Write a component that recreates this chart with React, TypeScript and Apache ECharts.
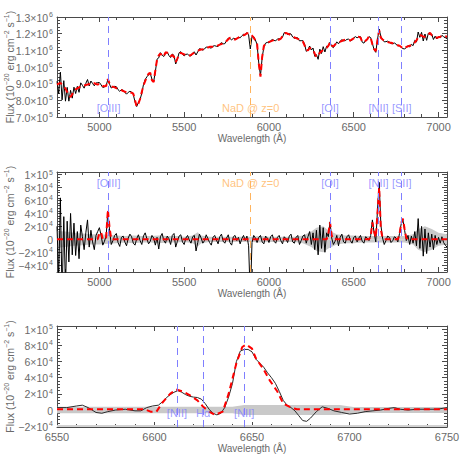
import React, { useEffect, useRef } from 'react';
import * as echarts from 'echarts';

// ---------------- DATA ----------------
const WAVE_START = 4750; // Å, first sample of the full spectrum
const WAVE_STEP = 10; // Å

// stellar continuum model (units of 1e5)
const stellar = [
  8.94, 9.0, 9.05, 8.93, 8.83, 8.7, 8.5, 8.3, 8.2, 8.37,
  8.54, 8.66, 8.72, 8.78, 8.83, 8.86, 8.89, 8.92, 8.95, 8.98,
  9.02, 9.05, 9.03, 8.98, 8.94, 8.89, 8.87, 8.86, 8.84, 8.83,
  8.82, 8.82, 8.82, 8.82, 8.78, 8.73, 8.69, 8.65, 8.61, 8.56,
  8.52, 8.47, 8.46, 8.46, 8.46, 8.4, 8.0, 7.62, 7.8, 8.08,
  8.5, 8.9, 9.15, 9.4, 9.6, 9.65, 9.2, 9.1, 9.8, 10.44,
  10.7, 10.82, 10.62, 10.65, 10.88, 10.85, 10.68, 10.65, 10.72, 10.6,
  10.3, 10.5, 10.8, 10.85, 10.8, 10.75, 10.74, 10.71, 10.69, 10.72,
  10.8, 10.85, 10.9, 10.96, 11.02, 11.05, 11.07, 11.1, 11.13, 11.17,
  11.21, 11.22, 11.22, 11.22, 11.25, 11.3, 11.34, 11.38, 11.42, 11.46,
  11.56, 11.66, 11.76, 11.72, 11.68, 11.64, 11.7, 11.76, 11.82, 11.86,
  11.9, 11.95, 12.02, 12.03, 11.98, 11.88, 11.76, 11.6, 11.4, 10.2,
  9.42, 10.6, 11.27, 11.38, 11.46, 11.5, 11.54, 11.58, 11.62, 11.64,
  11.64, 11.64, 11.7, 11.86, 12.02, 12.04, 12.0, 11.96, 11.9, 11.84,
  11.78, 11.73, 11.69, 11.65, 11.6, 11.53, 11.3, 11.0, 11.0, 11.14,
  11.1, 11.04, 10.8, 10.6, 10.7, 10.85, 10.95, 11.04, 11.1, 11.15,
  11.19, 11.22, 11.22, 11.24, 11.35, 11.45, 11.49, 11.52, 11.56, 11.61,
  11.64, 11.62, 11.6, 11.59, 11.66, 11.72, 11.77, 11.79, 11.81, 11.76,
  11.52, 11.49, 11.57, 11.67, 11.84, 11.7, 11.1, 10.95, 10.92, 11.2,
  11.4, 11.6, 11.63, 11.59, 11.54, 11.5, 11.47, 11.45, 11.42, 11.4,
  11.35, 11.3, 11.2, 10.95, 10.8, 10.95, 11.18, 11.24, 11.28, 11.31,
  11.34, 11.48, 11.6, 11.78, 11.92, 11.88, 11.82, 11.82, 11.82, 11.93,
  12.06, 11.9, 11.81, 11.79, 11.76, 11.79, 11.82, 11.86, 11.87, 11.85,
  11.82,
];

// observed minus stellar model (units of 1e4)
const residual = [
  2.0, -6.0, 6.4, -9.0, 3.5, -7.5, 2.8, -3.5, 4.0, -2.4,
  2.5, -2.5, 1.2, -3.0, 2.2, 0.4, -1.6, 1.0, 3.0, -1.2,
  1.4, -0.4, -1.6, 0.6, 1.2, 1.8, 0.6, -0.9, -0.3, 0.6,
  4.3, 1.4, -0.8, -0.2, 0.6, 0.9, -0.5, -1.1, 0.3, 0.5,
  -0.4, -1.0, 0.2, 0.8, 0.4, -0.6, -0.9, 0.1, 0.7, -0.2,
  -0.8, 0.5, 1.0, 0.1, -0.7, -0.3, 0.6, 0.2, -0.9, 0.3,
  -1.5, 0.4, 0.9, -0.2, -0.6, 0.5, 0.1, -0.8, 0.6, 0.9,
  -1.2, -0.3, 0.5, 0.7, -0.4, -0.8, 0.2, 0.6, -0.1, -0.6,
  0.4, 0.6, -1.8, -0.5, 0.8, 0.2, -0.6, -0.2, 0.7, 0.1,
  -0.5, -0.9, 0.3, 0.6, -0.1, -0.7, 0.4, 0.8, -0.3, -0.6,
  0.2, 0.7, -0.5, -0.9, 0.4, 0.6, -0.2, 0.3, -0.7, 0.1,
  0.6, -0.2, 0.5, -1.0, -9.0, -0.5, 0.6, 0.2, -0.5, 0.3,
  0.6, -0.4, -0.7, 0.5, 0.2, -0.5, 0.4, 0.7, -0.3, -0.6,
  0.3, 0.6, -0.2, -0.7, 0.4, 0.1, -0.5, 0.5, 0.8, -0.4,
  -0.6, 0.3, 0.6, -0.8, -0.2, 0.5, 0.7, -0.6, 0.4, 1.2,
  -0.8, 1.0, -1.6, 1.4, -2.4, 2.2, -1.4, 1.8, -2.0, 1.0,
  0.4, 2.7, 0.2, -0.8, -0.3, 0.6, -1.0, 0.3, 0.8, -0.4,
  -0.6, 0.4, 0.7, -0.2, -0.6, 0.3, 0.5, -0.4, 0.2, 0.6,
  -0.3, -0.6, 0.4, 0.2, -0.2, 0.6, 3.0, 1.0, -0.4, 4.5,
  8.8, 2.2, 0.2, -0.8, -0.2, 0.5, 0.3, -0.5, -0.2, 0.4,
  0.2, -0.4, 0.9, 2.4, 3.0, 1.4, -0.2, 0.6, -0.8, 0.5,
  -0.6, 1.2, -1.0, 3.2, -1.4, 2.0, -2.6, 1.6, -2.2, 1.0,
  -1.2, 0.8, -1.6, 0.6, -0.8, 0.3, -0.6, 0.4, -0.5, -0.9,
  -1.2,
];

// emission-line model, non-zero samples [wavelength Å, flux 1e4]
const emissionLines: [number, number][] = [
  [5000, 1.0], [5010, 1.1], [5040, 0.3], [5050, 4.6], [5060, 1.8],
  [6350, 0.8], [6360, 2.6], [6370, 0.6],
  [6600, 0.4], [6610, 2.6], [6620, 1.2], [6630, 0.3], [6640, 4.0], [6650, 8.0], [6660, 1.5], [6670, 0.2],
  [6770, 0.8], [6780, 2.5], [6790, 3.2], [6800, 1.6], [6810, 0.2],
];

// 1-sigma error of residual [wavelength Å, 1e4]
const residualError: [number, number][] = [
  [4750, 1.3], [4800, 1.2], [4850, 1.0], [4900, 0.9], [4950, 0.8], [5000, 0.8], [5050, 0.7],
  [5100, 0.6], [5150, 0.5], [5200, 0.6], [5250, 0.5], [5300, 0.5], [5350, 0.6], [5400, 0.5],
  [5450, 0.5], [5500, 0.4], [5550, 0.6], [5580, 1.1], [5600, 0.6], [5650, 0.4], [5700, 0.4],
  [5750, 0.4], [5800, 0.4], [5850, 0.4], [5900, 0.4], [5950, 0.5], [6000, 0.4], [6050, 0.4],
  [6100, 0.4], [6150, 0.4], [6200, 0.6], [6250, 1.2], [6280, 1.8], [6320, 2.0], [6350, 1.4],
  [6400, 0.8], [6450, 0.6], [6500, 0.6], [6550, 0.5], [6600, 0.5], [6650, 0.5], [6700, 0.5],
  [6750, 0.5], [6800, 0.5], [6850, 0.8], [6880, 1.6], [6920, 2.0], [6960, 1.6], [7000, 1.0],
  [7050, 0.8],
];

// zoom on Hα+[NII] (flux 1e4)
const zoomObserved: [number, number][] = [
  [6550, 0.3], [6555, 0.3], [6560, 0.5], [6563, 0.6], [6566, 0.3], [6570, -0.3], [6573, -0.4],
  [6576, -0.2], [6580, 0.0], [6585, 0.1], [6590, -0.1], [6593, -0.1], [6596, 0.3], [6599, 0.5],
  [6602, 0.6], [6604, 1.0], [6606, 1.5], [6608, 1.9], [6610, 2.2], [6612, 2.4], [6614, 2.2],
  [6616, 1.9], [6618, 1.7], [6620, 1.6], [6622, 1.55], [6624, 1.35], [6626, 0.8], [6628, 0.1],
  [6630, -0.4], [6632, -0.6], [6634, -0.4], [6636, 0.3], [6638, 1.6], [6640, 3.3], [6642, 6.0],
  [6644, 7.3], [6646, 7.5], [6648, 7.5], [6650, 7.2], [6652, 6.3], [6654, 5.8], [6656, 5.3],
  [6658, 4.6], [6660, 4.0], [6662, 3.3], [6664, 2.3], [6666, 1.2], [6668, 0.6], [6670, 0.3],
  [6672, -0.1], [6674, -0.7], [6676, -1.3], [6678, -1.4], [6680, -1.0], [6683, -0.2], [6686, 0.4],
  [6689, 0.2], [6692, -0.1], [6696, -0.3], [6700, -0.5], [6704, -0.4], [6708, -0.2], [6712, -0.1],
  [6716, 0.0], [6720, 0.2], [6723, 0.3], [6726, 0.1], [6730, 0.0], [6735, 0.1], [6740, 0.1],
  [6745, 0.1], [6750, 0.3],
];
const zoomModel: [number, number][] = [
  [6550, 0.1], [6595, 0.1], [6598, -0.2], [6601, -0.2], [6604, 0.9], [6608, 2.0], [6611, 2.55],
  [6615, 2.25], [6618, 1.85], [6622, 1.2], [6625, 0.4], [6628, -0.2], [6631, -0.6], [6635, -0.2],
  [6638, 2.0], [6642, 5.8], [6645, 7.8], [6647, 8.1], [6650, 7.6], [6652, 6.4], [6656, 5.0],
  [6659, 3.7], [6663, 2.3], [6666, 0.8], [6670, 0.3], [6673, 0.1], [6750, 0.1],
];
const zoomError: [number, number][] = [
  [6550, 0.4], [6600, 0.4], [6640, 0.4], [6646, 0.62], [6695, 0.62], [6702, 0.38], [6750, 0.38],
];

const spectrumLines = [
  { wave: 5054, name: '[OIII]' },
  { wave: 6360, name: '[OI]' },
  { wave: 6646, name: '[NII]' },
  { wave: 6783, name: '[SII]' },
];
const naD = { wave: 5892, name: 'NaD @ z=0' };
const zoomLines = [
  { wave: 6611.5, name: '[NII]' },
  { wave: 6625, name: 'Hα' },
  { wave: 6646, name: '[NII]' },
];

// ---------------- STYLE ----------------
const FONT = 'Liberation Sans';
const TXT = '#6a6a6a';
const AX = '#4a4a4a';
const BLUE = '#7f7fff';
const ORANGE = '#ffb45e';
const GRAY = '#c9c9c9';

function sci1(v: number) {
  const e = Math.floor(Math.log10(v) + 1e-9);
  const m = v / Math.pow(10, e);
  return `{b|${m.toFixed(1)}×10}{s|${e}}`;
}
function sci0(v: number) {
  if (Math.abs(v) < 1e-6) return '{b|0}';
  const sign = v < 0 ? '−' : '';
  const a = Math.abs(v);
  const e = Math.floor(Math.log10(a) + 1e-9);
  const m = Math.round(a / Math.pow(10, e));
  return `{b|${sign}${m}×10}{s|${e}}`;
}
const tickRich = {
  b: { fontSize: 10.5, color: TXT, fontFamily: FONT, lineHeight: 12, verticalAlign: 'bottom' },
  s: { fontSize: 7, color: TXT, fontFamily: FONT, lineHeight: 7, padding: [0, 0, 5, 1], verticalAlign: 'bottom' },
};
const yName = '{a|Flux (10}{s|−20}{a| erg cm}{s|−2}{a| s}{s|−1}{a|)}';
const nameRich = {
  a: { fontSize: 10.5, color: TXT, fontFamily: FONT, lineHeight: 12, verticalAlign: 'bottom' },
  s: { fontSize: 7, color: TXT, fontFamily: FONT, lineHeight: 7, padding: [0, 0, 5, 0], verticalAlign: 'bottom' },
};

const grids = [
  { left: 57, top: 17, width: 390, height: 100 },
  { left: 57, top: 172, width: 390, height: 100 },
  { left: 57, top: 326, width: 390, height: 101 },
].map((g) => ({ ...g, containLabel: false, outerBoundsMode: 'none' }));

function axisBase(gi: number) {
  return {
    type: 'value' as const,
    gridIndex: gi,
    axisLine: { show: true, onZero: false, lineStyle: { color: AX, width: 1 } },
    axisTick: { show: true, inside: true, length: 5, lineStyle: { color: AX } },
    minorTick: { show: true, splitNumber: 5, length: 3, lineStyle: { color: AX } },
    splitLine: { show: false },
    minorSplitLine: { show: false },
  };
}

function xPair(gi: number, extra: any, hideEnds: boolean) {
  const base = { ...axisBase(gi), ...extra };
  return [
    {
      ...base,
      position: 'bottom',
      name: 'Wavelength (Å)',
      nameLocation: 'middle',
      nameGap: 16,
      nameMoveOverlap: false,
      nameTextStyle: { color: TXT, fontFamily: FONT, fontSize: 10 },
      axisLabel: {
        color: TXT, fontFamily: FONT, fontSize: 11, margin: 4,
        formatter: (v: number) => String(v),
        showMinLabel: !hideEnds, showMaxLabel: !hideEnds,
      },
    },
    { ...base, position: 'top', axisLabel: { show: false } },
  ];
}
function yPair(gi: number, extra: any, fmt: (v: number) => string, hideEnds: boolean) {
  const base = { ...axisBase(gi), ...extra };
  return [
    {
      ...base,
      position: 'left',
      name: yName,
      nameLocation: 'middle',
      nameRotate: 90,
      nameGap: 42,
      nameMoveOverlap: false,
      nameTextStyle: { rich: nameRich, overflow: 'none' },
      axisLabel: {
        formatter: fmt, rich: tickRich, margin: 4, fontSize: 10.5, fontFamily: FONT, color: TXT,
        showMinLabel: !hideEnds, showMaxLabel: !hideEnds,
      },
    },
    { ...base, position: 'right', axisLabel: { show: false } },
  ];
}

function buildOption() {
  const waveGrid = stellar.map((_, i) => WAVE_START + i * WAVE_STEP);
  const emission = waveGrid.map((w) => {
    const hit = emissionLines.find((e) => e[0] === w);
    return hit ? hit[1] : 0;
  });
  const topObs = waveGrid.map((w, i) => [w, stellar[i] * 1e5 + residual[i] * 1e4]);
  const topModel = waveGrid.map((w, i) => [w, stellar[i] * 1e5 + emission[i] * 1e4]);
  const midObs = waveGrid.map((w, i) => [w, residual[i] * 1e4]);
  const midModel = waveGrid.map((w, i) => [w, emission[i] * 1e4]);

  const wideMin = WAVE_START;
  const wideMax = waveGrid[waveGrid.length - 1];

  const black = (gi: number, data: any, color = '#000') => ({
    type: 'line', xAxisIndex: gi * 2, yAxisIndex: gi * 2, data, showSymbol: false, symbol: 'none',
    lineStyle: { color, width: 1 }, z: 3, silent: true, clip: true,
  });
  const red = (gi: number, data: any) => ({
    type: 'line', xAxisIndex: gi * 2, yAxisIndex: gi * 2, data, showSymbol: false, symbol: 'none',
    lineStyle: { color: '#ff0000', width: 2, type: [6, 4] }, z: 4, silent: true, clip: true,
  });
  // symmetric error band: one area above zero and one below, both filled to zero
  const band = (gi: number, err: [number, number][], extra: any = {}) => [
    {
      type: 'line', xAxisIndex: gi * 2, yAxisIndex: gi * 2,
      data: err.map(([w, e]) => [w, e * 1e4]), showSymbol: false, symbol: 'none',
      lineStyle: { opacity: 0, width: 0 }, areaStyle: { color: GRAY, opacity: 1 }, z: 1, silent: true,
      ...extra,
    },
    {
      type: 'line', xAxisIndex: gi * 2, yAxisIndex: gi * 2,
      data: err.map(([w, e]) => [w, -e * 1e4]), showSymbol: false, symbol: 'none',
      lineStyle: { opacity: 0, width: 0 }, areaStyle: { color: GRAY, opacity: 1 }, z: 1, silent: true,
    },
  ];
  const labels = (gi: number, marks: { wave: number; name: string }[], color: string, yVal: number) => ({
    type: 'scatter', xAxisIndex: gi * 2, yAxisIndex: gi * 2, symbol: 'circle', symbolSize: 1,
    itemStyle: { color: 'rgba(0,0,0,0)' }, z: 6, silent: true,
    data: marks.map((m) => ({ name: m.name, value: [m.wave, yVal] })),
    label: { show: true, position: 'inside', formatter: '{b}', fontFamily: FONT, fontSize: 11, color },
    markLine: {
      silent: true, symbol: ['none', 'none'], label: { show: false },
      lineStyle: { color, width: 1, type: [7, 5], opacity: 1 },
      emphasis: { disabled: true },
      data: marks.map((m) => ({ xAxis: m.wave })),
    },
  });

  return {
    animation: false,
    backgroundColor: '#ffffff',
    grid: grids,
    xAxis: [
      ...xPair(0, { min: wideMin, max: wideMax, splitNumber: 5 }, true),
      ...xPair(1, { min: wideMin, max: wideMax, splitNumber: 5 }, true),
      ...xPair(2, { min: 6550, max: 6750, interval: 50 }, false),
    ],
    yAxis: [
      ...yPair(0, { min: 700000, max: 1300000, interval: 100000 }, sci1, false),
      ...yPair(1, { min: -50500, max: 104000, splitNumber: 7 }, sci0, true),
      ...yPair(2, { min: -21000, max: 104000, splitNumber: 6 }, sci0, true),
    ],
    series: [
      black(0, topObs),
      red(0, topModel),
      labels(0, spectrumLines, BLUE, 756000),
      labels(0, [naD], ORANGE, 756000),
      ...band(1, residualError),
      black(1, midObs),
      red(1, midModel),
      labels(1, spectrumLines, BLUE, 87300),
      labels(1, [naD], ORANGE, 87300),
      ...band(2, zoomError, {
        markArea: {
          silent: true,
          itemStyle: { color: '#d2d2d2' },
          data: [[{ yAxis: -21000 }, { yAxis: -18600 }]],
        },
      }),
      black(2, zoomObserved.map(([w, v]) => [w, v * 1e4]), '#2a2a2a'),
      red(2, zoomModel.map(([w, v]) => [w, v * 1e4])),
      labels(2, zoomLines, BLUE, -3700),
    ],
  };
}

export default function App() {
  const ref = useRef<HTMLDivElement>(null);
  useEffect(() => {
    if (!ref.current) return;
    const chart = echarts.init(ref.current, null, { renderer: 'svg' });
    chart.setOption(buildOption() as any);
    return () => chart.dispose();
  }, []);
  return (
    <div
      ref={ref}
      style={{ position: 'absolute', left: 0, top: 0, width: 463, height: 463, background: '#fff' }}
    />
  );
}
